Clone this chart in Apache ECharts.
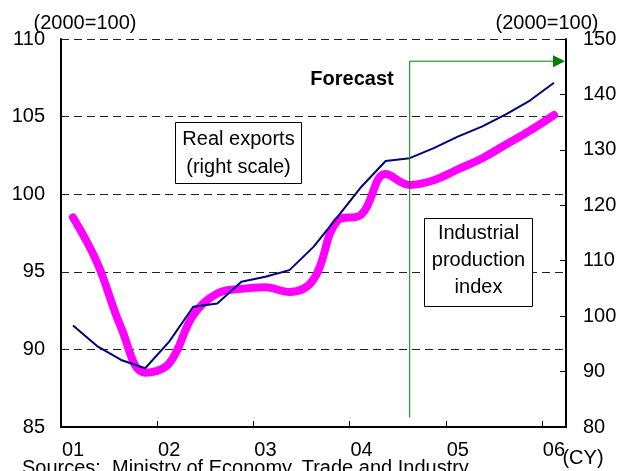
<!DOCTYPE html>
<html>
<head>
<meta charset="utf-8">
<script src="https://cdn.jsdelivr.net/npm/echarts@6/dist/echarts.min.js"></script>
<style>
  html, body { margin: 0; padding: 0; background: #fff; }
  #chart { width: 631px; height: 471px; }
</style>
</head>
<body>
<div id="chart"></div>
<script>
// Quarterly periods, 2001 Q1 to 2006 Q1
const quarters = [
  '01Q1', '01Q2', '01Q3', '01Q4',
  '02Q1', '02Q2', '02Q3', '02Q4',
  '03Q1', '03Q2', '03Q3', '03Q4',
  '04Q1', '04Q2', '04Q3', '04Q4',
  '05Q1', '05Q2', '05Q3', '05Q4',
  '06Q1'
];
const yearLabels = ['01', '02', '03', '04', '05', '06'];

// Industrial production index (left scale, 2000=100)
const industrialProduction = [
  98.5, 95.6, 91.4, 88.5,
  89.1, 92.2, 93.6, 93.9,
  94.0, 93.7, 94.5, 98.3,
  98.7, 101.3, 100.6, 100.9,
  101.6, 102.3, 103.2, 104.1,
  105.1
];

// Real exports (right scale, 2000=100)
const realExports = [
  98.3, 94.6, 92.1, 90.6,
  95.4, 101.7, 102.3, 106.2,
  107.1, 108.3, 112.5, 117.9,
  123.4, 128.0, 128.5, 130.3,
  132.4, 134.2, 136.4, 138.9,
  142.1
];

// Left and right tick ranges
const leftTicks = { min: 85, max: 110, step: 5 };
const rightTicks = { min: 80, max: 150, step: 10 };

// Forecast period marker: starts at this quarter
const forecastStart = '04Q3';
const forecastArrow = { low: 81.7, high: 146 };

const FONT = 'Liberation Sans, Arial, Helvetica, sans-serif';
const chart = echarts.init(document.getElementById('chart'), null, { renderer: 'canvas' });

const grid = { left: 61, right: 65, top: 39, bottom: 44 };

chart.setOption({
  backgroundColor: '#ffffff',
  animation: false,
  grid: grid,
  xAxis: {
    type: 'category',
    data: quarters,
    boundaryGap: true,
    axisLine: { show: true, lineStyle: { color: '#000', width: 2 } },
    axisTick: { show: true, inside: true, length: 6, interval: 3, lineStyle: { color: '#000', width: 1 } },
    axisLabel: {
      interval: 3,
      margin: 13,
      color: '#000',
      fontFamily: FONT,
      fontSize: 20,
      formatter: (v, i) => yearLabels[Math.floor(i / 4)]
    },
    splitLine: { show: false }
  },
  yAxis: [
    {
      type: 'value',
      position: 'left',
      min: leftTicks.min,
      max: leftTicks.max,
      interval: leftTicks.step,
      axisLine: { show: true, lineStyle: { color: '#000', width: 2 } },
      axisTick: { show: false },
      axisLabel: { color: '#000', fontFamily: FONT, fontSize: 20, margin: 16 },
      splitLine: { show: true, lineStyle: { color: '#222', width: 1, type: [8, 5] } }
    },
    {
      type: 'value',
      position: 'right',
      min: rightTicks.min,
      max: rightTicks.max,
      interval: rightTicks.step,
      axisLine: { show: true, lineStyle: { color: '#000', width: 2 } },
      axisTick: { show: true, inside: true, length: 6, lineStyle: { color: '#000', width: 1 } },
      axisLabel: { color: '#000', fontFamily: FONT, fontSize: 20, margin: 17 },
      splitLine: { show: false }
    }
  ],
  series: [
    {
      name: 'Industrial production index',
      type: 'line',
      yAxisIndex: 0,
      data: industrialProduction,
      smooth: 0.4,
      symbol: 'none',
      lineStyle: { color: '#ff00ff', width: 8, cap: 'round', join: 'round' },
      z: 2
    },
    {
      name: 'Real exports',
      type: 'line',
      yAxisIndex: 1,
      data: realExports,
      smooth: false,
      symbol: 'none',
      lineStyle: { color: '#000080', width: 2 },
      z: 3
    }
  ]
});

// Annotations: forecast arrow, text boxes, unit labels
function drawAnnotations() {
  const top = chart.convertToPixel({ xAxisIndex: 0, yAxisIndex: 1 }, [forecastStart, forecastArrow.high]);
  const bottom = chart.convertToPixel({ xAxisIndex: 0, yAxisIndex: 1 }, [forecastStart, forecastArrow.low]);
  const rightEdge = 631 - grid.right;
  const green = '#008000';
  const textStyle = { fontFamily: FONT, fontSize: 20, fill: '#000' };

  chart.setOption({
    graphic: [
      {
        type: 'polyline',
        shape: { points: [[bottom[0], bottom[1]], [top[0], top[1]], [rightEdge - 12, top[1]]] },
        style: { stroke: green, lineWidth: 1, fill: null },
        z: 10
      },
      {
        type: 'polygon',
        shape: { points: [[rightEdge - 13, top[1] - 6], [rightEdge - 1, top[1]], [rightEdge - 13, top[1] + 6]] },
        style: { fill: green },
        z: 10
      },
      {
        type: 'text',
        x: 352, y: 79,
        style: Object.assign({}, textStyle, { text: 'Forecast', fontWeight: 'bold', align: 'center', verticalAlign: 'middle' }),
        z: 10
      },
      {
        type: 'rect',
        shape: { x: 175.5, y: 122.5, width: 126, height: 61 },
        style: { fill: '#fff', stroke: '#000', lineWidth: 1 },
        z: 10
      },
      {
        type: 'text',
        x: 238.5, y: 153,
        style: Object.assign({}, textStyle, { text: 'Real exports\n(right scale)', align: 'center', verticalAlign: 'middle', lineHeight: 28 }),
        z: 11
      },
      {
        type: 'rect',
        shape: { x: 424.5, y: 218.5, width: 108, height: 88 },
        style: { fill: '#fff', stroke: '#000', lineWidth: 1 },
        z: 10
      },
      {
        type: 'text',
        x: 478.5, y: 260,
        style: Object.assign({}, textStyle, { text: 'Industrial\nproduction\nindex', align: 'center', verticalAlign: 'middle', lineHeight: 27 }),
        z: 11
      },
      {
        type: 'text',
        x: 85, y: 23,
        style: Object.assign({}, textStyle, { text: '(2000=100)', align: 'center', verticalAlign: 'middle' }),
        z: 10
      },
      {
        type: 'text',
        x: 547, y: 23,
        style: Object.assign({}, textStyle, { text: '(2000=100)', align: 'center', verticalAlign: 'middle' }),
        z: 10
      },
      {
        type: 'text',
        x: 583, y: 458,
        style: Object.assign({}, textStyle, { text: '(CY)', align: 'center', verticalAlign: 'middle' }),
        z: 10
      },
      {
        type: 'text',
        x: 22, y: 458,
        style: Object.assign({}, textStyle, { text: 'Sources:  Ministry of Economy, Trade and Industry', align: 'left', verticalAlign: 'top' }),
        z: 9
      }
    ]
  });
}
drawAnnotations();
</script>
</body>
</html>
